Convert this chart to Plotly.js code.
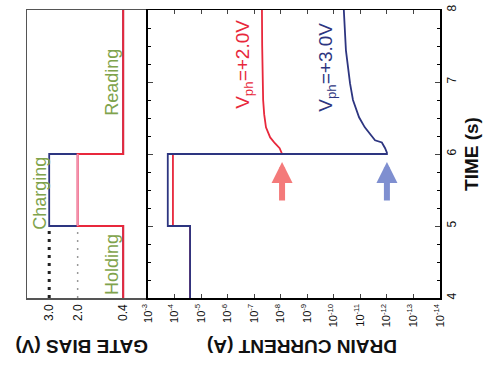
<!DOCTYPE html>
<html>
<head>
<meta charset="utf-8">
<script src="https://cdn.plot.ly/plotly-3.0.1.min.js"></script>
<style>html,body{margin:0;padding:0;background:#fff;}#chart{width:491px;height:374px;}</style>
</head>
<body>
<div id="chart"></div>
<script>
// Gate bias panel (time in s, bias in V)
const gateTime = [4, 5, 5, 6, 6, 8];
const gateBlue = [0.4, 0.4, 3.0, 3.0, 0.4, 0.4];
const gateRed = [0.4, 0.4, 2.0, 2.0, 0.4, 0.4];
const chargeTime = [5, 6];
const chargePink = [2.0, 2.0];
const dotTime = [4, 5];
const dotBlue = [3.0, 3.0];
const dotRed = [2.0, 2.0];
const gateTickVals = [3.0, 2.0, 0.4];
const gateTickText = ['3.0', '2.0', '0.4'];

// Drain current panel
const redTime = [4, 5, 5, 6, 6, 6.03, 6.08, 6.15, 6.23, 6.37, 6.55, 6.75, 7.0, 7.5, 8];
const redCurrent = [2.6e-5, 2.6e-5, 1.15e-4, 1.15e-4, 8.9e-9, 9.6e-9, 1.1e-8, 1.66e-8, 2.5e-8, 3.6e-8, 4.2e-8, 4.6e-8, 4.8e-8, 5.0e-8, 5.1e-8];
const blueTime = [4, 5, 5, 6, 6, 6.02, 6.08, 6.16, 6.19, 6.28, 6.37, 6.51, 6.75, 6.98, 7.44, 8];
const blueCurrent = [2.6e-5, 2.6e-5, 1.8e-4, 1.8e-4, 1.0e-12, 1.0e-12, 1.17e-12, 1.55e-12, 2.8e-12, 4.4e-12, 6.8e-12, 1.12e-11, 1.9e-11, 2.45e-11, 3.5e-11, 4.2e-11];
const currentTickVals = [1e-3, 1e-4, 1e-5, 1e-6, 1e-7, 1e-8, 1e-9, 1e-10, 1e-11, 1e-12, 1e-13, 1e-14];
const currentTickText = ['10<sup>-3</sup>', '10<sup>-4</sup>', '10<sup>-5</sup>', '10<sup>-6</sup>', '10<sup>-7</sup>', '10<sup>-8</sup>', '10<sup>-9</sup>', '10<sup>-10</sup>', '10<sup>-11</sup>', '10<sup>-12</sup>', '10<sup>-13</sup>', '10<sup>-14</sup>'];
const timeTickVals = [4, 5, 6, 7, 8];
const timeTickText = ['4', '5', '6', '7', '8'];

const RED = '#e8283c';
const NAVY = '#2d3580';
const PINK = '#f28fb0';
const GREEN = '#7fa34c';
const FONT = 'Liberation Sans, Arial, sans-serif';

const traces = [
  {x: dotBlue, y: dotTime, xaxis: 'x', yaxis: 'y2', mode: 'lines', line: {color: '#222', width: 3, dash: '3px,5px'}, hoverinfo: 'skip'},
  {x: dotRed, y: dotTime, xaxis: 'x', yaxis: 'y2', mode: 'lines', line: {color: '#999', width: 1.5, dash: '2px,6px'}, hoverinfo: 'skip'},
  {x: gateBlue, y: gateTime, xaxis: 'x', yaxis: 'y2', mode: 'lines', line: {color: NAVY, width: 1.8}},
  {x: gateRed, y: gateTime, xaxis: 'x', yaxis: 'y2', mode: 'lines', line: {color: RED, width: 2}},
  {x: chargePink, y: chargeTime, xaxis: 'x', yaxis: 'y2', mode: 'lines', line: {color: PINK, width: 1.8}},
  {x: redCurrent, y: redTime, xaxis: 'x2', yaxis: 'y', mode: 'lines', line: {color: RED, width: 1.8}},
  {x: blueCurrent, y: blueTime, xaxis: 'x2', yaxis: 'y', mode: 'lines', line: {color: NAVY, width: 1.8}}
];

const layout = {
  width: 491, height: 374,
  margin: {l: 27, r: 51, t: 10, b: 76},
  paper_bgcolor: '#fff', plot_bgcolor: '#fff',
  showlegend: false,
  font: {family: FONT, color: '#111'},
  xaxis: {
    domain: [0, 0.288], range: [3.78, -0.40],
    showline: true, mirror: true, linecolor: '#555', linewidth: 1.5,
    showgrid: false, zeroline: false, ticks: '',
    tickvals: gateTickVals, ticktext: gateTickText, tickangle: -90,
    tickfont: {size: 12, family: FONT, color: '#111'}
  },
  xaxis2: {
    domain: [0.293, 1], type: 'log', range: [-3, -14], anchor: 'y',
    showline: true, mirror: 'ticks', linecolor: '#000', linewidth: 1.5,
    showgrid: false, zeroline: false, ticks: 'inside', ticklen: 4,
    tickvals: currentTickVals, ticktext: currentTickText, tickangle: -90,
    tickfont: {size: 11, family: FONT, color: '#111'}
  },
  yaxis: {
    domain: [0, 1], range: [4, 8], anchor: 'x2', side: 'right',
    showline: true, mirror: 'ticks', linecolor: '#000', linewidth: 2,
    showgrid: false, zeroline: false, ticks: 'inside', ticklen: 5,
    tickvals: timeTickVals, ticktext: timeTickText, tickangle: -90,
    tickfont: {size: 12, family: FONT, color: '#111'},
    minor: {dtick: 0.25, ticks: 'inside', ticklen: 3, tickcolor: '#000'},
    title: {text: '<b>TIME (s)</b>', font: {size: 19, family: FONT, color: '#111'}, standoff: 6}
  },
  yaxis2: {
    domain: [0, 1], range: [4, 8], anchor: 'x', matches: 'y',
    showline: true, mirror: true, linecolor: '#555', linewidth: 1.5,
    showgrid: false, zeroline: false, ticks: '', showticklabels: false
  },
  annotations: [
    {x: 3.33, y: 5.46, xref: 'x', yref: 'y2', text: 'Charging', textangle: -90, showarrow: false, font: {size: 18, color: GREEN, family: FONT}},
    {x: 0.79, y: 4.46, xref: 'x', yref: 'y2', text: 'Holding', textangle: -90, showarrow: false, font: {size: 18, color: GREEN, family: FONT}},
    {x: 0.79, y: 6.99, xref: 'x', yref: 'y2', text: 'Reading', textangle: -90, showarrow: false, font: {size: 18, color: GREEN, family: FONT}},
    {x: -6.62, y: 7.24, xref: 'x2', yref: 'y', text: 'V<sub>ph</sub>=+2.0V', textangle: -90, showarrow: false, font: {size: 19, color: RED, family: FONT}},
    {x: -9.74, y: 7.21, xref: 'x2', yref: 'y', text: 'V<sub>ph</sub>=+3.0V', textangle: -90, showarrow: false, font: {size: 19, color: NAVY, family: FONT}},
    {x: -8.05, y: 5.89, xref: 'x2', yref: 'y', text: '', showarrow: true, arrowhead: 2, arrowsize: 0.7, arrowwidth: 6, arrowcolor: '#f47a7a', ax: 0, ay: 40},
    {x: -12.0, y: 5.89, xref: 'x2', yref: 'y', text: '', showarrow: true, arrowhead: 2, arrowsize: 0.7, arrowwidth: 6, arrowcolor: '#7f8fd0', ax: 0, ay: 40},
    {x: 82, y: 347, xref: 'paper', yref: 'paper', xanchor: 'center', yanchor: 'middle', text: '<b>GATE BIAS (V)</b>', textangle: 180, showarrow: false, font: {size: 19, family: FONT, color: '#111'}},
    {x: 302, y: 347, xref: 'paper', yref: 'paper', xanchor: 'center', yanchor: 'middle', text: '<b>DRAIN CURRENT (A)</b>', textangle: 180, showarrow: false, font: {size: 19, family: FONT, color: '#111'}}
  ]
};
// convert the two bottom title pixel positions to paper fractions
const pw = 491 - 27 - 51, ph = 374 - 10 - 76;
layout.annotations[7].x = (82 - 27) / pw; layout.annotations[7].y = (374 - 76 - 347) / ph;
layout.annotations[8].x = (302 - 27) / pw; layout.annotations[8].y = (374 - 76 - 347) / ph;

Plotly.newPlot('chart', traces, layout, {displayModeBar: false, staticPlot: true});
</script>
</body>
</html>
